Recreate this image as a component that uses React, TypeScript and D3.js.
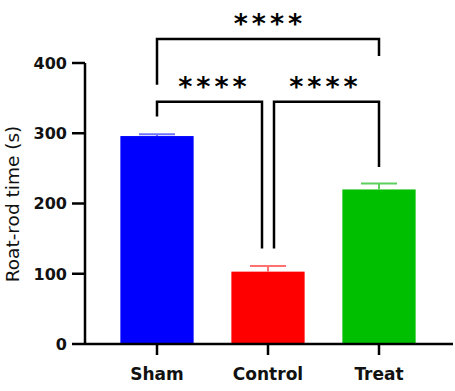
import React from "react";
import * as d3 from "d3";

const categories = ["Sham", "Control", "Treat"];
const means = [296, 103, 220];
const sems = [2.5, 8, 8.5];
const barColors = ["#0000ff", "#ff0000", "#00bf00"];
const errColors = ["#7070ff", "#ff7070", "#5ccf5c"];
const yTicks = [0, 100, 200, 300, 400];

// significance brackets
const brFrom = [0, 0, 1];
const brTo = [2, 1, 2];
const brY = [434, 345, 345];
const brLeftEnd = [369, 324, 136];
const brRightEnd = [410, 136, 252];
const brLeftOff = [0, 0, 6];
const brRightOff = [0, -6, 0];
const brLabel = ["****", "****", "****"];

export default function App() {
  const W = 455, H = 391;
  const y = d3.scaleLinear().domain([0, 400]).range([344, 63]);
  const x = d3.scaleBand().domain(categories).range([101.5, 434.5]).paddingInner(0.34).paddingOuter(0.17);
  const bw = x.bandwidth();
  const cx = (i: number) => (x(categories[i]) as number) + bw / 2;
  const axisX0 = 85;
  const axisX1 = 453;
  const capW = 36;

  return (
    <svg width={W} height={H} style={{ position: "absolute", left: 0, top: 0, background: "#fff" }}>
      {categories.map((c, i) => (
        <rect key={c} x={x(c)} y={y(means[i])} width={bw} height={y(0) - y(means[i])} fill={barColors[i]} />
      ))}
      {categories.map((c, i) => (
        <g key={"e" + c} stroke={errColors[i]} strokeWidth={2}>
          <line x1={cx(i)} x2={cx(i)} y1={y(means[i])} y2={y(means[i] + sems[i])} />
          <line x1={cx(i) - capW / 2} x2={cx(i) + capW / 2} y1={y(means[i] + sems[i])} y2={y(means[i] + sems[i])} />
        </g>
      ))}
      <line x1={axisX0} x2={axisX0} y1={y(400)} y2={y(0) + 1} stroke="#000" strokeWidth={2.5} />
      {yTicks.map((t) => (
        <g key={t}>
          <line x1={axisX0 - 13} x2={axisX0} y1={y(t)} y2={y(t)} stroke="#000" strokeWidth={2.5} />
          <text x={67} y={y(t)} dy="0.36em" textAnchor="end" fontFamily="DejaVu Sans" fontWeight="bold" fontSize={16} fill="#111">
            {t}
          </text>
        </g>
      ))}
      <line x1={axisX0} x2={axisX1} y1={y(0)} y2={y(0)} stroke="#000" strokeWidth={2.5} />
      {categories.map((c, i) => (
        <g key={"x" + c}>
          <line x1={cx(i)} x2={cx(i)} y1={y(0)} y2={y(0) + 11} stroke="#000" strokeWidth={2.5} />
          <text x={cx(i)} y={380} textAnchor="middle" fontFamily="DejaVu Sans" fontWeight="bold" fontSize={17} fill="#111">
            {c}
          </text>
        </g>
      ))}
      <text transform={`translate(19,${204}) rotate(-90)`} textAnchor="middle" fontFamily="DejaVu Sans" fontSize={18.5} fill="#111">
        Roat-rod time (s)
      </text>
      {brFrom.map((f, k) => {
        const xl = cx(f) + brLeftOff[k];
        const xr = cx(brTo[k]) + brRightOff[k];
        const yb = y(brY[k]);
        const path = `M${xl},${y(brLeftEnd[k])}V${yb}H${xr}V${y(brRightEnd[k])}`;
        return (
          <g key={"b" + k}>
            <path d={path} fill="none" stroke="#000" strokeWidth={2.5} />
            <text x={(cx(f) + cx(brTo[k])) / 2 + 2} y={yb - 6} textAnchor="middle" fontFamily="DejaVu Sans" fontWeight="bold" fontSize={27} letterSpacing={4} fill="#000">
              {brLabel[k]}
            </text>
          </g>
        );
      })}
    </svg>
  );
}
